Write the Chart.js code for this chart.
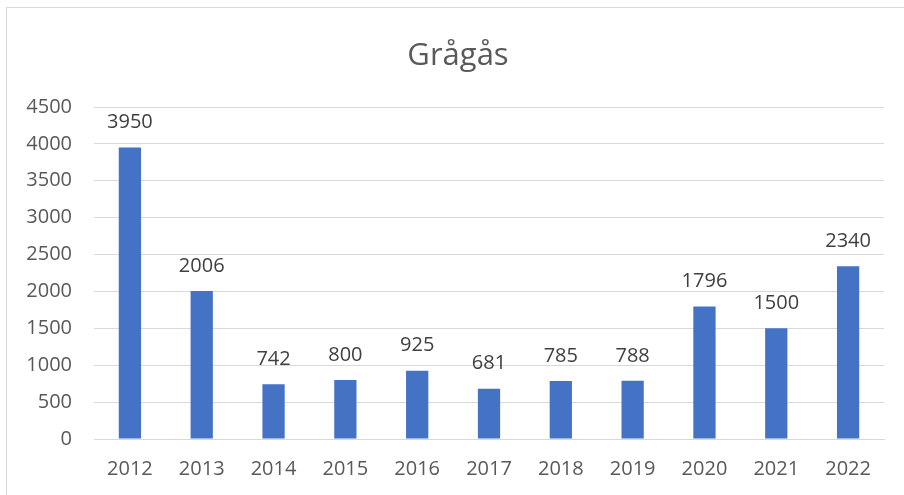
<!DOCTYPE html>
<html>
<head>
<meta charset="utf-8">
<script src="https://cdn.jsdelivr.net/npm/chart.js@4"></script>
<style>
  html, body { margin: 0; padding: 0; background: #fff; overflow: hidden; }
  #frame {
    position: absolute; left: 6px; top: 7px; width: 920px; height: 520px;
    border: 1px solid #d9d9d9; box-sizing: border-box;
  }
  #wrap { position: absolute; left: 0; top: 0; width: 904px; height: 495px; }
</style>
</head>
<body>
<div id="frame"></div>
<div id="wrap"><canvas id="chart"></canvas></div>
<script>
// chart data
var chartTitle = 'Grågås';
var years = ['2012', '2013', '2014', '2015', '2016', '2017', '2018', '2019', '2020', '2021', '2022'];
var counts = [3950, 2006, 742, 800, 925, 681, 785, 788, 1796, 1500, 2340];
var yTicks = [0, 500, 1000, 1500, 2000, 2500, 3000, 3500, 4000, 4500];

var FONT = '"Open Sans", "Noto Sans", sans-serif';
var TEXT = '#595959';
var GRID = '#d9d9d9';

// value labels above each bar
var barLabels = {
    id: 'barLabels',
    afterDatasetsDraw: function (chart) {
        var ctx = chart.ctx;
        var meta = chart.getDatasetMeta(0);
        ctx.save();
        ctx.font = '20px ' + FONT;
        ctx.fillStyle = '#404040';
        ctx.textAlign = 'center';
        ctx.textBaseline = 'middle';
        meta.data.forEach(function (bar, i) {
            ctx.fillText(String(counts[i]), bar.x, bar.y - 25);
        });
        ctx.restore();
    }
};

// title centred on the chart frame, not on the plot
var frameTitle = {
    id: 'frameTitle',
    afterDraw: function (chart) {
        var ctx = chart.ctx;
        ctx.save();
        ctx.font = '31px ' + FONT;
        ctx.fillStyle = TEXT;
        ctx.textAlign = 'center';
        ctx.textBaseline = 'alphabetic';
        ctx.fillText(chartTitle, 458, 65);
        ctx.restore();
    }
};

new Chart(document.getElementById('chart'), {
    type: 'bar',
    data: {
        labels: years,
        datasets: [{
            data: counts,
            backgroundColor: '#4472C4',
            borderWidth: 0,
            barPercentage: 0.31,
            categoryPercentage: 1
        }]
    },
    options: {
        responsive: true,
        maintainAspectRatio: false,
        animation: false,
        layout: { padding: { left: 0, right: 20, top: 107, bottom: 0 } },
        plugins: {
            legend: { display: false },
            tooltip: { enabled: false },
            title: { display: false }
        },
        scales: {
            x: {
                grid: { display: false, drawTicks: false },
                border: { display: true, color: GRID, width: 1 },
                ticks: { color: TEXT, font: { family: FONT, size: 20 }, padding: 18 },
                afterFit: function (scale) { scale.height = 56; }
            },
            y: {
                min: 0,
                max: 4500,
                afterBuildTicks: function (scale) {
                    scale.ticks = yTicks.map(function (v) { return { value: v }; });
                },
                grid: { color: GRID, lineWidth: 1, drawTicks: false },
                border: { display: false },
                ticks: {
                    color: TEXT,
                    font: { family: FONT, size: 20 },
                    padding: 22,
                    callback: function (value) { return String(value); }
                },
                afterFit: function (scale) { scale.width = 94; }
            }
        }
    },
    plugins: [barLabels, frameTitle]
});
</script>
</body>
</html>
